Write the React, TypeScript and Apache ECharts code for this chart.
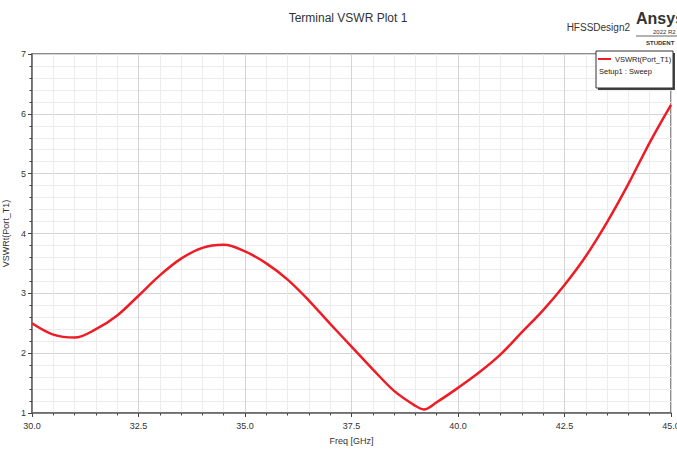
import React, { useEffect, useRef } from "react";
import * as echarts from "echarts";

const freq = [30.0, 30.5, 31.0, 31.5, 32.0, 32.5, 33.0, 33.5, 34.0, 34.5, 35.0, 35.5, 36.0, 36.5, 37.0, 37.5, 38.0, 38.5, 39.0, 39.2, 39.5, 40.0, 40.5, 41.0, 41.5, 42.0, 42.5, 43.0, 43.5, 44.0, 44.5, 45.0];
const vswr = [2.50, 2.31, 2.26, 2.40, 2.63, 2.96, 3.30, 3.58, 3.76, 3.81, 3.70, 3.50, 3.23, 2.88, 2.49, 2.11, 1.73, 1.37, 1.12, 1.06, 1.18, 1.42, 1.68, 1.98, 2.35, 2.72, 3.14, 3.62, 4.19, 4.83, 5.52, 6.15];
const seriesName = "VSWRt(Port_T1)";
const setupLabel = "Setup1 : Sweep";
const titleText = "Terminal VSWR Plot 1";
const xName = "Freq [GHz]";
const yName = "VSWRt(Port_T1)";

const FONT = "Liberation Sans, Arial, sans-serif";

export default function App() {
  const ref = useRef<HTMLDivElement>(null);
  useEffect(() => {
    if (!ref.current) return;
    const chart = echarts.init(ref.current, undefined, { renderer: "svg" });
    const data = freq.map((f, i) => [f, vswr[i]]);
    chart.setOption({
      animation: false,
      backgroundColor: "#ffffff",
      textStyle: { fontFamily: FONT },
      title: {
        text: titleText,
        left: 343,
        top: 7,
        textAlign: "center",
        textStyle: { fontSize: 12, fontWeight: "normal", color: "#333", fontFamily: FONT },
      },
      grid: {
        left: 32,
        right: 6,
        top: 54,
        bottom: 37,
        show: true,
        borderColor: "#666",
        borderWidth: 1.5,
        backgroundColor: "#fff",
        containLabel: false,
        outerBoundsMode: "none",
      },
      legend: {
        show: true,
        left: 598,
        top: 55,
        itemWidth: 13,
        itemHeight: 2,
        itemGap: 4,
        padding: 0,
        icon: "rect",
        textStyle: { fontSize: 7.5, color: "#222", fontFamily: FONT, padding: [0, 0, 0, -1] },
        data: [seriesName],
        z: 10,
      },
      xAxis: {
        type: "value",
        min: 30,
        max: 45,
        interval: 2.5,
        name: xName,
        nameLocation: "middle",
        nameGap: 23,
        nameTextStyle: { fontSize: 9, color: "#333" },
        axisLine: { show: true, lineStyle: { color: "#666", width: 1.5 } },
        axisTick: { show: true, length: 4, lineStyle: { color: "#444" } },
        minorTick: { show: true, splitNumber: 5, length: 2.5, lineStyle: { color: "#444" } },
        axisLabel: {
          fontSize: 9,
          color: "#333",
          margin: 8,
          formatter: (v: number) => v.toFixed(1),
        },
        splitLine: { show: true, lineStyle: { color: "#d4d4d4", width: 1 } },
        minorSplitLine: { show: true, lineStyle: { color: "#ececec", width: 1 } },
      },
      yAxis: {
        type: "value",
        min: 1,
        max: 7,
        interval: 1,
        name: yName,
        nameLocation: "middle",
        nameGap: 13,
        nameTextStyle: { fontSize: 9, color: "#333" },
        axisLine: { show: true, lineStyle: { color: "#666", width: 1.5 } },
        axisTick: { show: true, length: 4, lineStyle: { color: "#444" } },
        minorTick: { show: true, splitNumber: 5, length: 2.5, lineStyle: { color: "#444" } },
        axisLabel: { fontSize: 9, color: "#333", margin: 6 },
        splitLine: { show: true, lineStyle: { color: "#d4d4d4", width: 1 } },
        minorSplitLine: { show: true, lineStyle: { color: "#ececec", width: 1 } },
      },
      graphic: [
        {
          type: "rect",
          shape: { x: 598, y: 53, width: 77, height: 37 },
          style: { fill: "#444" },
          z: 5,
        },
        {
          type: "rect",
          shape: { x: 596, y: 51, width: 77, height: 37 },
          style: { fill: "#fff", stroke: "#333", lineWidth: 1 },
          z: 6,
        },
        {
          type: "text",
          x: 599,
          y: 71,
          style: { text: setupLabel, fontSize: 7.5, fill: "#222", fontFamily: FONT, verticalAlign: "middle" },
          z: 7,
        },
        {
          type: "text",
          x: 630,
          y: 27,
          style: { text: "HFSSDesign2", fontSize: 10, fill: "#333", fontFamily: FONT, align: "right", verticalAlign: "middle" },
        },
        {
          type: "text",
          x: 636,
          y: 18,
          style: { text: "Ansys", fontSize: 16, fontWeight: "bold", fill: "#333", fontFamily: FONT, verticalAlign: "middle" },
        },
        {
          type: "line",
          shape: { x1: 636, y1: 36, x2: 677, y2: 36 },
          style: { stroke: "#666", lineWidth: 1 },
        },
        {
          type: "text",
          x: 653,
          y: 32,
          style: { text: "2022 R2", fontSize: 6, fill: "#333", fontFamily: FONT, verticalAlign: "middle" },
        },
        {
          type: "text",
          x: 646,
          y: 43,
          style: { text: "STUDENT", fontSize: 6, fontWeight: "bold", fill: "#333", fontFamily: FONT, verticalAlign: "middle" },
        },
      ],
      series: [
        {
          name: seriesName,
          type: "line",
          data,
          smooth: 0.35,
          showSymbol: false,
          symbol: "none",
          lineStyle: { color: "#ee1c25", width: 2.5 },
          itemStyle: { color: "#ee1c25" },
          z: 3,
        },
      ],
    });
    return () => chart.dispose();
  }, []);
  return (
    <div
      ref={ref}
      style={{ position: "fixed", left: 0, top: 0, width: 677, height: 450 }}
    />
  );
}
